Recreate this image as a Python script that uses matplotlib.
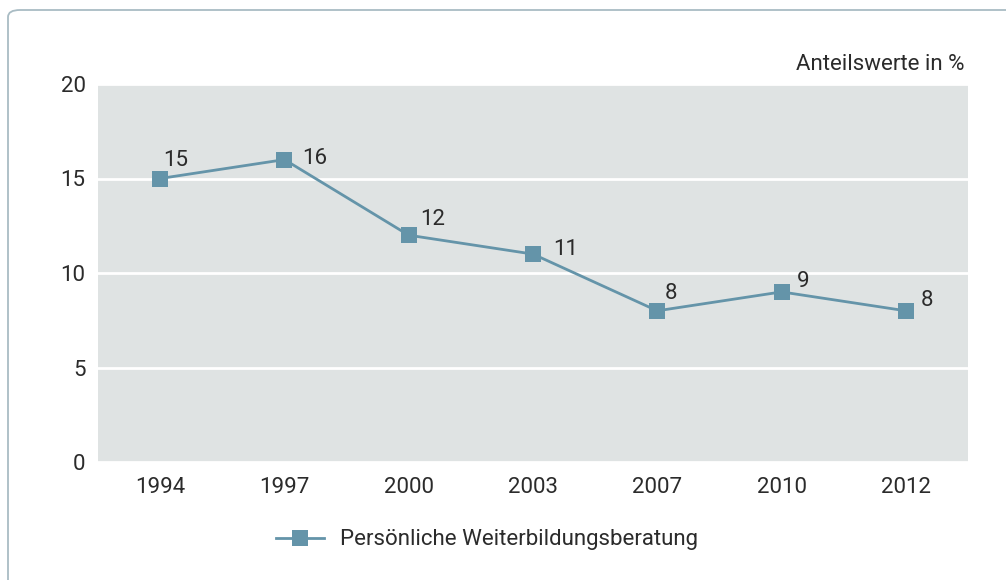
import matplotlib
matplotlib.use("Agg")
import matplotlib.pyplot as plt
from matplotlib.patches import FancyBboxPatch

# data
years = ["1994", "1997", "2000", "2003", "2007", "2010", "2012"]
anteil = [15, 16, 12, 11, 8, 9, 8]
series_name = "Persönliche Weiterbildungsberatung"

# label offsets in pixels (left edge, baseline) relative to the point
label_offsets = [(3, 12), (18, -4), (11, 10), (20, -1), (7, 12), (15, 5), (15, 5)]

plt.rcParams['font.family'] = ['Roboto', 'DejaVu Sans']
text_col = "#2b2b2b"
line_col = "#6494a9"
fs = 16

fig = plt.figure(figsize=(10.06, 5.80), dpi=100)

# rounded frame
frame = FancyBboxPatch((8 / 1006, -0.1), 1.2, 1.1 - 10 / 580,
                       boxstyle="round,pad=0,rounding_size=0.012",
                       transform=fig.transFigure, facecolor="white",
                       edgecolor="#a9bcc4", linewidth=1.3, zorder=-10)
fig.patches.append(frame)

ax = fig.add_axes([98 / 1006, 118 / 580, 870 / 1006, 378 / 580])
ax.set_facecolor("#dfe3e3")
x = list(range(len(years)))
ax.plot(x, anteil, color=line_col, linewidth=2, marker="s", markersize=11.5,
        markeredgewidth=0, label=series_name, zorder=3)

for xi, v, (dx, dy) in zip(x, anteil, label_offsets):
    ax.annotate(str(v), (xi, v), xytext=(dx, dy), textcoords="offset pixels",
                ha="left", va="baseline", fontsize=fs, color=text_col)

ax.set_xlim(-0.5, len(years) - 0.5)
ax.set_ylim(0, 20)
ax.set_yticks([0, 5, 10, 15, 20])
ax.set_xticks(x)
ax.set_xticklabels(years)
ax.tick_params(axis="both", length=0, labelsize=fs, labelcolor=text_col)
ax.tick_params(axis="y", pad=9)
ax.tick_params(axis="x", pad=11)
for s in ax.spines.values():
    s.set_visible(False)
ax.grid(axis="y", color="white", linewidth=2)
ax.set_axisbelow(True)

fig.text(964 / 1006, 1 - 70 / 580, "Anteilswerte in %", ha="right", va="baseline",
         fontsize=fs, color=text_col)

fig.legend(loc="center", bbox_to_anchor=(487 / 1006, 1 - 540 / 580), frameon=False,
           fontsize=fs, handlelength=2.15, handletextpad=0.7, labelcolor=text_col)

fig.savefig("out.png", dpi=100)
